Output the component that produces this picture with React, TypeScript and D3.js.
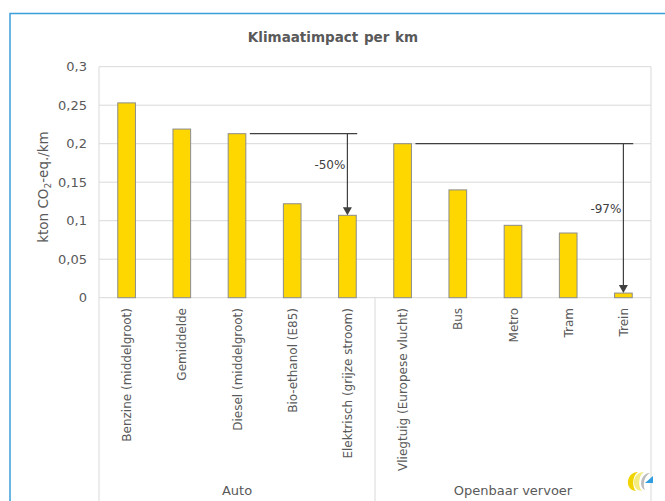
import React from 'react';
import * as d3 from 'd3';

const categories = [
  'Benzine (middelgroot)',
  'Gemiddelde',
  'Diesel (middelgroot)',
  'Bio-ethanol (E85)',
  'Elektrisch (grijze stroom)',
  'Vliegtuig (Europese vlucht)',
  'Bus',
  'Metro',
  'Tram',
  'Trein',
];
const values = [0.253, 0.219, 0.213, 0.122, 0.107, 0.2, 0.14, 0.094, 0.084, 0.006];
const groupNames = ['Auto', 'Openbaar vervoer'];
const groupSizes = [5, 5];
const yTicks = [0, 0.05, 0.1, 0.15, 0.2, 0.25, 0.3];
const yTickLabels = ['0', '0,05', '0,1', '0,15', '0,2', '0,25', '0,3'];
const annFrom = ['Diesel (middelgroot)', 'Vliegtuig (Europese vlucht)'];
const annTo = ['Elektrisch (grijze stroom)', 'Trein'];
const annLabels = ['-50%', '-97%'];

const W = 665;
const H = 501;
const left = 99;
const right = 651;
const top = 66.7;
const bottom = 297.7;

export default function App() {
  const x = d3.scaleBand<string>().domain(categories).range([left, right]).paddingInner(0.68).paddingOuter(0.34);
  const y = d3.scaleLinear().domain([0, 0.3]).range([bottom, top]);
  const bw = x.bandwidth();
  const step = x.step();
  const valOf = (c: string) => values[categories.indexOf(c)];
  const grid = '#d9d9d9';
  const txt = '#595959';
  const font = "'DejaVu Sans', Verdana, sans-serif";

  const bounds: number[] = [];
  let acc = 0;
  groupSizes.forEach((s) => {
    bounds.push(acc);
    acc += s;
  });

  return (
    <svg width={W} height={H} style={{ position: 'absolute', left: 0, top: 0, background: '#fff' }}>
      <rect x={0} y={0} width={W} height={H} fill="#fff" />
      <rect x={10} y={13.5} width={W + 50} height={H + 50} fill="none" stroke="#3b9fd9" strokeWidth={1.5} />
      <text x={333} y={42} textAnchor="middle" fontFamily={font} fontWeight="bold" fontSize={13.5} fill={txt} wordSpacing={1}>
        Klimaatimpact per km
      </text>

      {yTicks.map((t, i) => (
        <g key={i}>
          <line x1={left} x2={right} y1={y(t)} y2={y(t)} stroke={grid} strokeWidth={1} />
          <text x={87} y={y(t) + 4.5} textAnchor="end" fontFamily={font} fontSize={13} fill={txt}>
            {yTickLabels[i]}
          </text>
        </g>
      ))}
      <line x1={left} x2={left} y1={top} y2={H} stroke={grid} />
      <line x1={right} x2={right} y1={top} y2={H} stroke={grid} />
      {bounds.slice(1).map((b, i) => (
        <line key={i} x1={left + b * step} x2={left + b * step} y1={bottom} y2={H} stroke={grid} />
      ))}

      <text transform={`translate(48,187) rotate(-90)`} textAnchor="middle" fontFamily={font} fontSize={13.5} fill={txt}>
        kton CO<tspan fontSize={9} dy={3}>2</tspan>
        <tspan dy={-3}>-eq./km</tspan>
      </text>

      {categories.map((c, i) => (
        <rect key={c} x={x(c)!} y={y(values[i])} width={bw} height={bottom - y(values[i])} fill="#ffd700" stroke="#8c8c8c" strokeWidth={1} />
      ))}

      {categories.map((c) => (
        <text
          key={c}
          transform={`translate(${x(c)! + bw / 2 + 4.5},308) rotate(-90)`}
          textAnchor="end"
          fontFamily={font}
          fontSize={12}
          fill={txt}
        >
          {c}
        </text>
      ))}

      {groupNames.map((g, i) => {
        const cx = left + (bounds[i] + groupSizes[i] / 2) * step;
        return (
          <text key={g} x={cx} y={495} textAnchor="middle" fontFamily={font} fontSize={13} fill={txt}>
            {g}
          </text>
        );
      })}

      {annFrom.map((f, i) => {
        const t = annTo[i];
        const yf = y(valOf(f));
        const yt = y(valOf(t));
        const x1 = x(f)! + bw + 4;
        const ax = x(t)! + bw / 2;
        const x2 = x(t)! + bw + 1;
        const mid = (yf + yt) / 2 - 10;
        return (
          <g key={i}>
            <line x1={x1} x2={x2} y1={yf} y2={yf} stroke="#404040" strokeWidth={1.2} />
            <line x1={ax} x2={ax} y1={yf} y2={yt - 7} stroke="#404040" strokeWidth={1.2} />
            <path d={`M${ax - 4.5},${yt - 8} L${ax + 4.5},${yt - 8} L${ax},${yt} Z`} fill="#404040" />
            <text x={ax - 2} y={mid + 4.5} textAnchor="end" fontFamily={font} fontSize={12} fill="#404040">
              {annLabels[i]}
            </text>
          </g>
        );
      })}

      <g>
        <path d="M638,472 C626,472 624,490 636,491 C632,487 632,476 638,472 Z" fill="#f0d400" />
        <path d="M644,472 C632,472 630,490 642,491 C638,487 638,476 644,472 Z" fill="#f5ec80" />
        <path d="M650,473 C641,473 638,487 645,490 C643,486 643,477 650,473 Z" fill="#bdbdbd" />
        <path d="M645,483 L653,476 L653,483 Z" fill="#2f9de0" />
      </g>
    </svg>
  );
}
